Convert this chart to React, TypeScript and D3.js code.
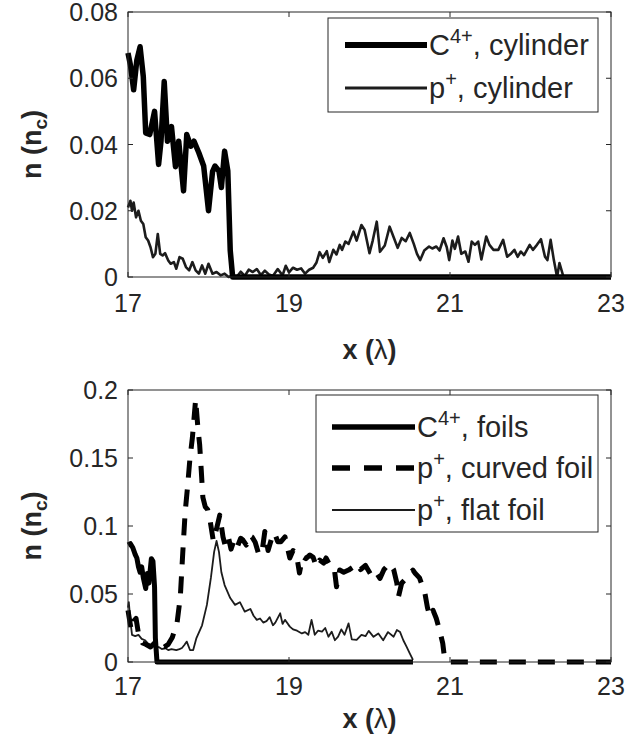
import React from 'react';
import * as d3 from 'd3';

type Pt = [number, number];

// Axis ticks
const xTicks = [17, 19, 21, 23];
const topYTicks = [0, 0.02, 0.04, 0.06, 0.08];
const bottomYTicks = [0, 0.05, 0.1, 0.15, 0.2];

// Upper panel: cylinder target
const carbonCylinder: Pt[] = [
  [17.0, 0.0676], [17.03, 0.064], [17.07, 0.0565], [17.11, 0.0655], [17.15, 0.0695],
  [17.19, 0.0605], [17.22, 0.0435], [17.27, 0.043], [17.33, 0.05], [17.38, 0.034],
  [17.41, 0.041], [17.45, 0.059], [17.49, 0.041], [17.54, 0.0454], [17.59, 0.0333],
  [17.63, 0.041], [17.69, 0.026], [17.73, 0.043], [17.78, 0.0395], [17.82, 0.041],
  [17.88, 0.0375], [17.94, 0.0335], [18.0, 0.02], [18.05, 0.0318], [18.08, 0.0335],
  [18.13, 0.032], [18.16, 0.027], [18.2, 0.038], [18.24, 0.032], [18.27, 0.008],
  [18.3, 0], [23.0, 0],
];

const protonCylinder: Pt[] = [
  [17.0, 0.021], [17.03, 0.023], [17.05, 0.02], [17.07, 0.0225], [17.1, 0.018],
  [17.13, 0.02], [17.16, 0.017], [17.19, 0.016], [17.22, 0.012], [17.25, 0.011],
  [17.28, 0.009], [17.31, 0.006], [17.34, 0.007], [17.37, 0.013], [17.4, 0.007],
  [17.43, 0.0065], [17.46, 0.0072], [17.5, 0.005], [17.53, 0.004], [17.57, 0.0045],
  [17.6, 0.0025], [17.64, 0.006], [17.68, 0.0055], [17.72, 0.003], [17.76, 0.002],
  [17.8, 0.0045], [17.84, 0.002], [17.88, 0.001], [17.92, 0.0035], [17.96, 0.001],
  [18.0, 0.004], [18.05, 0.001], [18.1, 0.0015], [18.15, 0.0005], [18.2, 0.001],
  [18.25, 0], [18.3, 0.0005], [18.35, 0], [18.4, 0.0016], [18.45, 0.0003],
  [18.5, 0.0022], [18.55, 0.0015], [18.6, 0.0024], [18.65, 0.0006], [18.7, 0.0019],
  [18.75, 0.0008], [18.8, 0.0003], [18.86, 0.0024], [18.92, 0.0005], [18.96, 0.0034],
  [19.0, 0.0014], [19.05, 0.0028], [19.1, 0.0022], [19.15, 0.0026], [19.2, 0.001],
  [19.25, 0.0022], [19.3, 0.0028], [19.34, 0.0043], [19.38, 0.0075], [19.42, 0.0058],
  [19.47, 0.0078], [19.5, 0.0045], [19.55, 0.0082], [19.59, 0.0068], [19.63, 0.0097],
  [19.66, 0.0082], [19.7, 0.0107], [19.74, 0.01], [19.8, 0.0137], [19.84, 0.011],
  [19.9, 0.0157], [19.94, 0.0142], [20.0, 0.0072], [20.04, 0.011], [20.09, 0.0167],
  [20.13, 0.0076], [20.19, 0.0095], [20.25, 0.0152], [20.3, 0.012], [20.35, 0.0088],
  [20.4, 0.0118], [20.45, 0.0108], [20.5, 0.0133], [20.55, 0.01], [20.59, 0.007],
  [20.63, 0.0051], [20.68, 0.008], [20.74, 0.0092], [20.78, 0.0086], [20.83, 0.0092],
  [20.87, 0.008], [20.92, 0.0117], [20.96, 0.009], [20.99, 0.0051], [21.03, 0.011],
  [21.06, 0.0085], [21.1, 0.0122], [21.14, 0.007], [21.19, 0.0077], [21.23, 0.0046],
  [21.27, 0.0107], [21.31, 0.0097], [21.35, 0.0107], [21.39, 0.0053], [21.45, 0.0122],
  [21.49, 0.0097], [21.54, 0.0082], [21.6, 0.0082], [21.66, 0.0112], [21.71, 0.0061],
  [21.76, 0.0071], [21.8, 0.0082], [21.84, 0.0061], [21.88, 0.0077], [21.92, 0.0066],
  [21.99, 0.0097], [22.03, 0.0082], [22.08, 0.0097], [22.13, 0.0114], [22.18, 0.0061],
  [22.21, 0.0051], [22.25, 0.0112], [22.29, 0.0051], [22.33, 0], [22.36, 0.0042],
  [22.41, 0], [23.0, 0],
];

// Lower panel: foil targets
const carbonFoils: Pt[] = [
  [17.0, 0.086], [17.03, 0.087], [17.06, 0.084], [17.09, 0.079], [17.11, 0.0765],
  [17.13, 0.07], [17.15, 0.066], [17.17, 0.07], [17.19, 0.062], [17.22, 0.054],
  [17.24, 0.065], [17.26, 0.058], [17.29, 0.076], [17.31, 0.074], [17.33, 0.055],
  [17.34, 0.0176], [17.36, 0], [20.54, 0],
];

const protonCurvedFoil: Pt[] = [
  [17.0, 0.038], [17.04, 0.0235], [17.07, 0.03], [17.1, 0.032], [17.13, 0.021],
  [17.18, 0.014], [17.22, 0.013], [17.28, 0.011], [17.33, 0.014], [17.37, 0.016],
  [17.41, 0.012], [17.45, 0.011], [17.5, 0.013], [17.55, 0.018], [17.61, 0.029],
  [17.65, 0.048], [17.68, 0.08], [17.71, 0.11], [17.74, 0.129], [17.77, 0.15],
  [17.8, 0.165], [17.84, 0.193], [17.87, 0.171], [17.89, 0.16], [17.91, 0.141],
  [17.93, 0.121], [17.96, 0.114], [17.99, 0.112], [18.02, 0.104], [18.06, 0.089],
  [18.1, 0.098], [18.14, 0.108], [18.18, 0.092], [18.21, 0.085], [18.25, 0.091],
  [18.28, 0.083], [18.32, 0.09], [18.36, 0.085], [18.4, 0.091], [18.43, 0.0895],
  [18.47, 0.086], [18.51, 0.093], [18.54, 0.092], [18.58, 0.088], [18.62, 0.08],
  [18.66, 0.079], [18.7, 0.096], [18.74, 0.082], [18.78, 0.09], [18.82, 0.095],
  [18.86, 0.0885], [18.9, 0.0885], [18.95, 0.092], [19.01, 0.0765], [19.05, 0.082],
  [19.09, 0.08], [19.13, 0.0654], [19.17, 0.0775], [19.21, 0.076], [19.26, 0.0787],
  [19.3, 0.077], [19.34, 0.07], [19.38, 0.075], [19.43, 0.0727], [19.46, 0.0765],
  [19.5, 0.072], [19.56, 0.07], [19.59, 0.0554], [19.63, 0.0676], [19.68, 0.066],
  [19.74, 0.0676], [19.8, 0.07], [19.84, 0.0725], [19.89, 0.068], [19.95, 0.071],
  [20.01, 0.065], [20.06, 0.068], [20.13, 0.0615], [20.18, 0.068], [20.25, 0.0725],
  [20.3, 0.068], [20.34, 0.058], [20.36, 0.048], [20.4, 0.058], [20.45, 0.061],
  [20.49, 0.064], [20.54, 0.0676], [20.57, 0.065], [20.62, 0.062], [20.66, 0.0554],
  [20.69, 0.05], [20.72, 0.04], [20.75, 0.0333], [20.79, 0.038], [20.83, 0.032],
  [20.87, 0.0235], [20.91, 0.0137], [20.93, 0.004], [20.96, 0.0015], [21.0, 0],
  [23.0, 0],
];

const protonFlatFoil: Pt[] = [
  [17.0, 0.04], [17.01, 0.044], [17.03, 0.03], [17.05, 0.0199], [17.09, 0.019],
  [17.13, 0.0199], [17.17, 0.017], [17.21, 0.016], [17.25, 0.0135], [17.29, 0.0125],
  [17.34, 0.0115], [17.38, 0.011], [17.42, 0.0095], [17.46, 0.0103], [17.5, 0.0088],
  [17.54, 0.0095], [17.6, 0.0088], [17.64, 0.0095], [17.67, 0.0103], [17.7, 0.0125],
  [17.73, 0.015], [17.77, 0.0088], [17.81, 0.0088], [17.85, 0.0176], [17.92, 0.027],
  [17.98, 0.042], [18.03, 0.062], [18.07, 0.081], [18.1, 0.089], [18.13, 0.081],
  [18.16, 0.066], [18.2, 0.0566], [18.27, 0.047], [18.33, 0.042], [18.39, 0.044],
  [18.45, 0.037], [18.52, 0.039], [18.56, 0.034], [18.6, 0.031], [18.64, 0.032],
  [18.68, 0.029], [18.72, 0.03], [18.76, 0.033], [18.8, 0.027], [18.83, 0.029],
  [18.89, 0.0358], [18.92, 0.028], [18.95, 0.031], [19.01, 0.026], [19.05, 0.024],
  [19.1, 0.023], [19.16, 0.021], [19.2, 0.022], [19.24, 0.02], [19.28, 0.031],
  [19.32, 0.02], [19.36, 0.023], [19.41, 0.0223], [19.45, 0.025], [19.49, 0.0186],
  [19.53, 0.0223], [19.57, 0.016], [19.61, 0.0186], [19.65, 0.024], [19.69, 0.02],
  [19.74, 0.0284], [19.78, 0.0166], [19.84, 0.0162], [19.9, 0.02], [19.95, 0.019],
  [19.99, 0.0229], [20.05, 0.0185], [20.11, 0.021], [20.17, 0.016], [20.23, 0.022],
  [20.3, 0.0186], [20.34, 0.0235], [20.38, 0.022], [20.42, 0.016], [20.46, 0.0113],
  [20.5, 0.0064], [20.54, 0.0015],
];

const W = 627;
const H = 738;
const LEFT = 128;
const RIGHT = 611;
const INK = '#262626';
const FONT = '"Liberation Sans", Arial, Helvetica, sans-serif';
const TICK_FS = 25;

type Series = { data: Pt[]; width: number; color: string; dash?: string };
type LegendItem = { base: string; sup: string; rest: string; width: number; color: string; dash?: string };

type PanelProps = {
  top: number;
  bottom: number;
  yMax: number;
  yTicks: number[];
  xTickBaseline: number;
  xLabelBaseline: number;
  series: Series[];
  legend: LegendItem[];
  legendBox: { x0: number; x1: number; y0: number; y1: number; rowY: number[]; lineX0: number; lineX1: number; textX: number };
};

function fmtTick(v: number) {
  if (v === 0) return '0';
  return String(+v.toFixed(3));
}

function Panel({ top, bottom, yMax, yTicks, xTickBaseline, xLabelBaseline, series, legend, legendBox }: PanelProps) {
  const x = d3.scaleLinear().domain([17, 23]).range([LEFT, RIGHT]);
  const y = d3.scaleLinear().domain([0, yMax]).range([bottom, top]);
  const line = d3
    .line<Pt>()
    .x((d) => x(d[0]))
    .y((d) => y(d[1]));
  const tl = 5;
  const midY = (top + bottom) / 2;
  const midX = (LEFT + RIGHT) / 2;
  return (
    <g>
      {/* data curves */}
      {series.map((s, i) => (
        <path
          key={i}
          d={line(s.data) || ''}
          fill="none"
          stroke={s.color}
          strokeWidth={s.width}
          strokeDasharray={s.dash}
          strokeLinejoin="round"
        />
      ))}
      {/* axes box */}
      <rect x={LEFT} y={top} width={RIGHT - LEFT} height={bottom - top} fill="none" stroke={INK} strokeWidth={1} />
      {/* x ticks */}
      {xTicks.map((t) => (
        <g key={'x' + t}>
          <line x1={x(t)} x2={x(t)} y1={bottom} y2={bottom - tl} stroke={INK} strokeWidth={1} />
          <line x1={x(t)} x2={x(t)} y1={top} y2={top + tl} stroke={INK} strokeWidth={1} />
          <text x={x(t)} y={xTickBaseline} textAnchor="middle" fontSize={TICK_FS} fill={INK} fontFamily={FONT}>
            {t}
          </text>
        </g>
      ))}
      {/* y ticks */}
      {yTicks.map((t) => (
        <g key={'y' + t}>
          <line x1={LEFT} x2={LEFT + tl} y1={y(t)} y2={y(t)} stroke={INK} strokeWidth={1} />
          <line x1={RIGHT} x2={RIGHT - tl} y1={y(t)} y2={y(t)} stroke={INK} strokeWidth={1} />
          <text x={118} y={y(t) + 9} textAnchor="end" fontSize={TICK_FS} fill={INK} fontFamily={FONT}>
            {fmtTick(t)}
          </text>
        </g>
      ))}
      {/* axis labels */}
      <text x={midX} y={xLabelBaseline} textAnchor="middle" fontSize={27} fill={INK} fontFamily={FONT} fontWeight="bold">
        x (<tspan fontWeight="normal">λ</tspan>)
      </text>
      <text
        transform={`translate(41,${midY}) rotate(-90)`}
        textAnchor="middle"
        fontSize={27}
        fill={INK}
        fontFamily={FONT}
        fontWeight="bold"
      >
        n (n<tspan fontSize={19} dy={6}>c</tspan>
        <tspan dy={-6}>)</tspan>
      </text>
      {/* legend */}
      <rect
        x={legendBox.x0}
        y={legendBox.y0}
        width={legendBox.x1 - legendBox.x0}
        height={legendBox.y1 - legendBox.y0}
        fill="#fff"
        stroke={INK}
        strokeWidth={1}
      />
      {legend.map((item, i) => {
        const ry = legendBox.rowY[i];
        return (
          <g key={i}>
            <line
              x1={legendBox.lineX0}
              x2={legendBox.lineX1}
              y1={ry}
              y2={ry}
              stroke={item.color}
              strokeWidth={item.width}
              strokeDasharray={item.dash}
            />
            <text x={legendBox.textX} y={ry + 10} fontSize={29} fill={INK} fontFamily={FONT}>
              {item.base}
              <tspan fontSize={20} dy={-12}>
                {item.sup}
              </tspan>
              <tspan dy={12}>{item.rest}</tspan>
            </text>
          </g>
        );
      })}
    </g>
  );
}

export default function App() {
  const dash = '17 12';
  return (
    <svg
      width={W}
      height={H}
      viewBox={`0 0 ${W} ${H}`}
      style={{ position: 'absolute', left: 0, top: 0, background: '#fff' }}
    >
      <rect width={W} height={H} fill="#fff" />
      <Panel
        top={12}
        bottom={277}
        yMax={0.08}
        yTicks={topYTicks}
        xTickBaseline={312}
        xLabelBaseline={359}
        series={[
          { data: protonCylinder, width: 2.6, color: '#1c1c1c' },
          { data: carbonCylinder, width: 5.5, color: '#000' },
        ]}
        legend={[
          { base: 'C', sup: '4+', rest: ', cylinder', width: 6, color: '#000' },
          { base: 'p', sup: '+', rest: ', cylinder', width: 3, color: '#1c1c1c' },
        ]}
        legendBox={{ x0: 328, x1: 598, y0: 18, y1: 112, rowY: [45, 88], lineX0: 345, lineX1: 427, textX: 429 }}
      />
      <Panel
        top={390}
        bottom={662}
        yMax={0.2}
        yTicks={bottomYTicks}
        xTickBaseline={695}
        xLabelBaseline={728}
        series={[
          { data: protonFlatFoil, width: 1.8, color: '#1c1c1c' },
          { data: protonCurvedFoil, width: 5, color: '#000', dash },
          { data: carbonFoils, width: 5, color: '#000' },
        ]}
        legend={[
          { base: 'C', sup: '4+', rest: ', foils', width: 5.5, color: '#000' },
          { base: 'p', sup: '+', rest: ', curved foil', width: 5.5, color: '#000', dash: '18 14' },
          { base: 'p', sup: '+', rest: ', flat foil', width: 2, color: '#1c1c1c' },
        ]}
        legendBox={{ x0: 316, x1: 598, y0: 395, y1: 532, rowY: [427, 468, 510], lineX0: 332, lineX1: 415, textX: 417 }}
      />
    </svg>
  );
}
